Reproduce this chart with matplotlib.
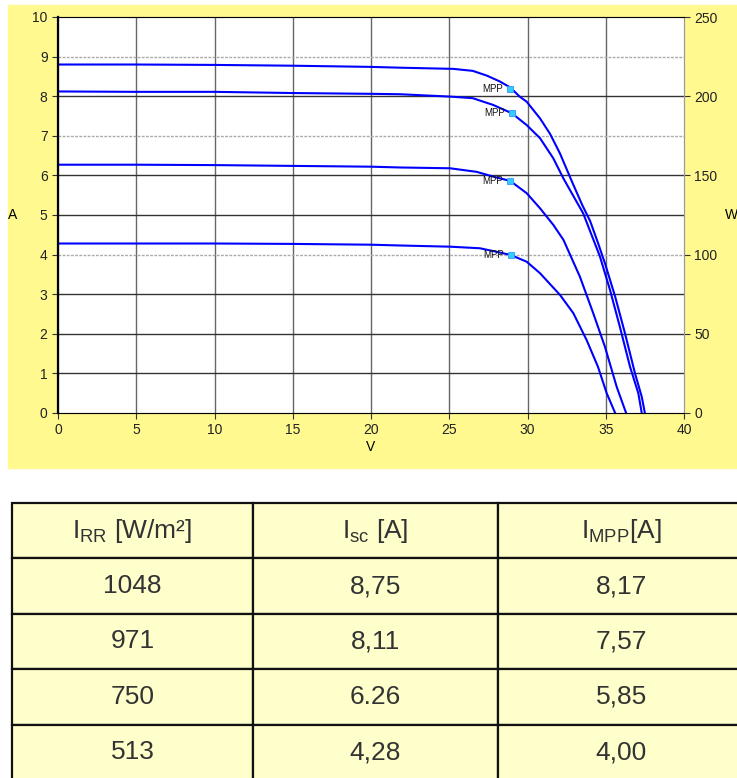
import matplotlib.pyplot as plt
from matplotlib.patches import Rectangle

plt.rcParams['font.family'] = ['Liberation Sans', 'DejaVu Sans']

# I-V curves (V in volts, I in amps)
v_1048 = [0, 5, 10, 15, 20, 21.85, 25.26, 26.5, 27.4, 28.24, 28.9, 29.5, 29.95, 30.8, 31.44,
          32.08, 32.8, 33.5, 34.0, 34.5, 34.95, 35.6, 36.23, 36.87, 37.3, 37.5]
i_1048 = [8.80, 8.80, 8.79, 8.77, 8.74, 8.72, 8.69, 8.64, 8.52, 8.37, 8.22, 7.99, 7.86, 7.44, 7.05,
          6.55, 5.88, 5.25, 4.85, 4.30, 3.78, 2.94, 2.01, 1.00, 0.41, 0.0]

v_971 = [0, 5, 10, 15, 20, 21.85, 25.05, 26.5, 27.8, 29.0, 29.95, 30.8, 31.65, 32.3, 33.56,
         34.63, 35.27, 35.9, 36.55, 37.08, 37.3]
i_971 = [8.12, 8.11, 8.11, 8.08, 8.06, 8.05, 7.99, 7.95, 7.78, 7.57, 7.27, 6.94, 6.43, 5.92, 5.04,
         3.95, 3.11, 2.18, 1.17, 0.50, 0.0]

v_750 = [0, 5, 10, 15, 20, 21.85, 25.05, 26.75, 27.8, 28.9, 29.95, 30.8, 31.65, 32.3, 33.35,
         34.2, 34.95, 35.7, 36.3]
i_750 = [6.27, 6.27, 6.26, 6.24, 6.22, 6.20, 6.18, 6.09, 5.97, 5.86, 5.55, 5.17, 4.75, 4.37, 3.44,
         2.52, 1.67, 0.66, 0.0]

v_513 = [0, 5, 10, 15, 20, 21.85, 25.05, 26.96, 28.03, 28.93, 29.95, 30.8, 32.08, 32.93, 33.78,
         34.5, 35.06, 35.6]
i_513 = [4.28, 4.28, 4.28, 4.27, 4.25, 4.23, 4.20, 4.16, 4.07, 3.99, 3.82, 3.53, 2.98, 2.52, 1.84,
         1.17, 0.50, 0.0]

curves = [(v_1048, i_1048), (v_971, i_971), (v_750, i_750), (v_513, i_513)]

mpp_v = [28.9, 29.0, 28.9, 28.95]
mpp_i = [8.17, 7.57, 5.85, 4.00]

# table values
table_header = ['$\\mathregular{I_{RR}}$ [W/m²]', '$\\mathregular{I_{sc}}$ [A]', '$\\mathregular{I_{MPP}}$[A]']
irr = ['1048', '971', '750', '513']
isc = ['8,75', '8,11', '6.26', '4,28']
impp = ['8,17', '7,57', '5,85', '4,00']

W, H = 737, 778
fig = plt.figure(figsize=(W / 100, H / 100), dpi=100)

# yellow panel behind the chart
fig.patches.append(Rectangle((8 / W, 1 - 468 / H), 740 / W, 463 / H,
                             transform=fig.transFigure, color='#FFF98F', zorder=-10))

ax = fig.add_axes([58 / W, 1 - 413 / H, 626 / W, 396 / H])
ax.set_facecolor('white')
ax.set_xlim(0, 40)
ax.set_ylim(0, 10)
ax.set_xticks(range(0, 41, 5))
ax.set_yticks(range(0, 11))

for x in range(5, 40, 5):
    ax.axvline(x, color='#666666', lw=1.0, zorder=1)
for y in [1, 2, 3, 5, 6, 8]:
    ax.axhline(y, color='#333333', lw=1.0, zorder=1)
for y in [4, 7, 9]:
    ax.axhline(y, color='#AAAAAA', lw=1.0, ls=(0, (2, 1)), zorder=1)

for v, i in curves:
    ax.plot(v, i, color='#0000FF', lw=1.5, zorder=3)

ax.scatter(mpp_v, mpp_i, marker='s', s=22, facecolor='#33CCFF', edgecolor='#3399FF',
           lw=0.6, zorder=4)
for v, i in zip(mpp_v, mpp_i):
    ax.text(v - 0.45, i, 'MPP', fontsize=7, ha='right', va='center', color='#111111', zorder=4)

for side in ['top', 'right', 'bottom']:
    ax.spines[side].set_color('#999999')
ax.spines['left'].set_color('black')
ax.spines['left'].set_linewidth(1.6)
ax.tick_params(axis='both', labelsize=10, length=4, color='#333333', labelcolor='#222222')
ax.set_xlabel('V', fontsize=10, labelpad=2)
ax.set_ylabel('A', fontsize=10, rotation=0, labelpad=14, va='center')

ax2 = ax.twinx()
ax2.set_ylim(0, 250)
ax2.set_yticks(range(0, 251, 50))
ax2.tick_params(axis='y', labelsize=10, length=4, color='#333333', labelcolor='#222222')
ax2.spines['right'].set_color('#999999')
ax2.set_ylabel('W', fontsize=10, rotation=0, labelpad=10, va='center')

# table below the chart
tab_ax = fig.add_axes([12 / W, -2 / H, 733 / W, 277 / H])
tab_ax.axis('off')
rows = [table_header] + [list(r) for r in zip(irr, isc, impp)]
tbl = tab_ax.table(cellText=rows, cellLoc='center', bbox=[0, 0, 1, 1],
                   colWidths=[241, 245, 247])
tbl.auto_set_font_size(False)
for (r, c), cell in tbl.get_celld().items():
    cell.set_facecolor('#FFFFCC')
    cell.set_edgecolor('#111111')
    cell.set_linewidth(1.6)
    cell.get_text().set_fontsize(19)
    cell.get_text().set_color('#333333')

fig.savefig('out.png', dpi=100)
